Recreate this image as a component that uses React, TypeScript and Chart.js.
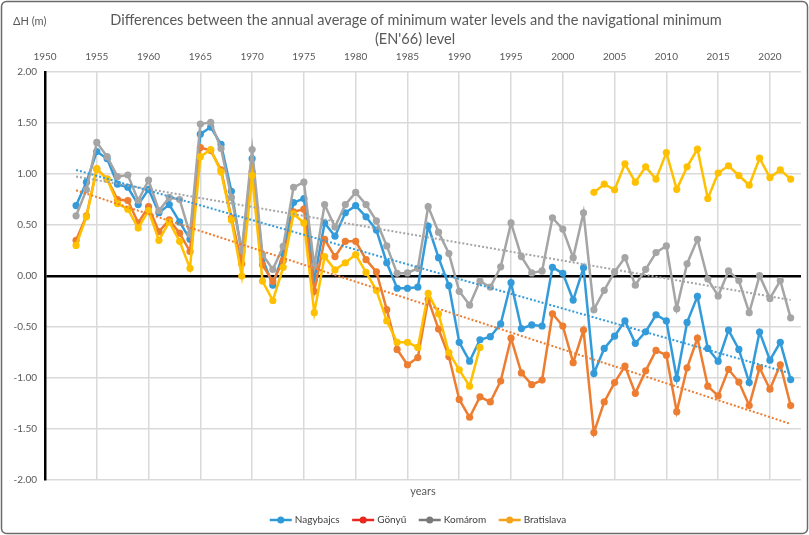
import React, { useEffect, useRef } from "react";
import { Chart, registerables } from "chart.js";

Chart.register(...registerables);

const years = [
  1953, 1954, 1955, 1956, 1957, 1958, 1959, 1960, 1961, 1962,
  1963, 1964, 1965, 1966, 1967, 1968, 1969, 1970, 1971, 1972,
  1973, 1974, 1975, 1976, 1977, 1978, 1979, 1980, 1981, 1982,
  1983, 1984, 1985, 1986, 1987, 1988, 1989, 1990, 1991, 1992,
  1993, 1994, 1995, 1996, 1997, 1998, 1999, 2000, 2001, 2002,
  2003, 2004, 2005, 2006, 2007, 2008, 2009, 2010, 2011, 2012,
  2013, 2014, 2015, 2016, 2017, 2018, 2019, 2020, 2021, 2022,
];

const nagybajcs = [
  0.69, 0.92, 1.22, 1.15, 0.9, 0.87, 0.7, 0.85, 0.62, 0.7,
  0.53, 0.36, 1.39, 1.46, 1.29, 0.83, 0.23, 1.15, 0.17, -0.09,
  0.22, 0.72, 0.76, -0.04, 0.52, 0.39, 0.62, 0.69, 0.58, 0.45,
  0.13, -0.12, -0.12, -0.11, 0.49, 0.18, -0.095, -0.65, -0.835, -0.625,
  -0.595, -0.47, -0.065, -0.515, -0.48, -0.49, 0.085, 0.026, -0.236, 0.08,
  -0.955, -0.71, -0.59, -0.44, -0.66, -0.547, -0.38, -0.44, -1.005, -0.455,
  -0.2, -0.71, -0.835, -0.53, -0.72, -1.045, -0.55, -0.825, -0.65, -1.015,
];

const gonyu = [
  0.35, 0.59, 1.05, 0.95, 0.75, 0.74, 0.52, 0.68, 0.435, 0.55,
  0.42, 0.24, 1.26, 1.23, 1.04, 0.57, 0.12, 1.02, 0.11, -0.055,
  0.15, 0.63, 0.655, -0.15, 0.36, 0.19, 0.34, 0.34, 0.16, 0.04,
  -0.33, -0.72, -0.87, -0.8, -0.23, -0.52, -0.79, -1.21, -1.385, -1.185,
  -1.235, -1.03, -0.61, -0.95, -1.065, -1.02, -0.37, -0.49, -0.85, -0.53,
  -1.535, -1.235, -1.045, -0.884, -1.15, -0.93, -0.73, -0.776, -1.33, -0.9,
  -0.61, -1.08, -1.175, -0.915, -1.04, -1.27, -0.9, -1.11, -0.87, -1.27,
];

const komarom = [
  0.59, 0.845, 1.31, 1.17, 0.975, 0.99, 0.74, 0.94, 0.64, 0.77,
  0.75, 0.41, 1.49, 1.506, 1.25, 0.77, 0.25, 1.24, 0.21, 0.065,
  0.29, 0.87, 0.92, 0.1, 0.7, 0.48, 0.7, 0.82, 0.7, 0.54,
  0.295, 0.026, 0.03, 0.075, 0.68, 0.43, 0.22, -0.15, -0.285, -0.05,
  -0.11, 0.09, 0.52, 0.19, 0.03, 0.05, 0.57, 0.46, 0.18, 0.62,
  -0.33, -0.14, 0.04, 0.18, -0.09, 0.065, 0.23, 0.295, -0.32, 0.12,
  0.36, -0.03, -0.196, 0.05, -0.045, -0.36, 0.003, -0.22, -0.045, -0.41,
];

const bratislava = [
  0.3, 0.58, 1.05, 0.95, 0.71, 0.655, 0.47, 0.64, 0.35, 0.53,
  0.34, 0.075, 1.17, 1.24, 1.02, 0.55, 0.0, 0.985, -0.05, -0.24,
  0.085, 0.61, 0.52, -0.36, 0.19, 0.06, 0.13, 0.21, 0.035, -0.14,
  -0.44, -0.65, -0.65, -0.7, -0.17, -0.37, -0.75, -0.92, -1.08, -0.7,
  null, null, null, null, null, null, null, null, null, null,
  0.82, 0.9, 0.845, 1.1, 0.92, 1.07, 0.95, 1.21, 0.85, 1.07,
  1.245, 0.76, 1.01, 1.08, 0.985, 0.89, 1.155, 0.965, 1.04, 0.95,
];

// trend lines (end points)
const trendYears = [1953, 2022];
const nagybajcsTrend = [1.04, -0.955];
const komaromTrend = [0.975, -0.235];
const gonyuTrend = [0.84, -1.45];

const seriesLabels = ["Nagybajcs", "Gönyű", "Komárom", "Bratislava"];
const lineColors = ["#339BDA", "#ED7D31", "#A5A5A5", "#FFC000"];
const legendColors = ["#2E9AD8", "#E8281F", "#7A7A7A", "#F7A21B"];

const titleLines = [
  "Differences between the annual average of minimum water levels and the navigational minimum",
  "(EN'66) level",
];
const yAxisTitle = "ΔH (m)";
const xAxisTitle = "years";

const FONT = "Lato";

function toPoints(xs: number[], ys: (number | null)[]) {
  return xs.map((x, i) => ({ x, y: ys[i] }));
}

const overlayPlugin = {
  id: "overlay",
  afterDraw(chart: any) {
    const ctx: CanvasRenderingContext2D = chart.ctx;
    ctx.save();
    // frame
    ctx.strokeStyle = "#6b6b6b";
    ctx.lineWidth = 1.5;
    ctx.beginPath();
    (ctx as any).roundRect(1.5, 1.5, 806, 532, 5);
    ctx.stroke();

    ctx.fillStyle = "#595959";
    ctx.textBaseline = "middle";
    // title
    ctx.font = `16px ${FONT}`;
    const w0 = ctx.measureText(titleLines[0]).width;
    const size = (16 * 612) / w0;
    ctx.font = `${size}px ${FONT}`;
    ctx.textAlign = "center";
    ctx.fillText(titleLines[0], 416, 20);
    ctx.fillText(titleLines[1], 415, 39);

    // y axis title
    ctx.font = `11px ${FONT}`;
    ctx.textAlign = "left";
    ctx.fillText(yAxisTitle, 13, 21);

    // x axis title
    ctx.textAlign = "center";
    ctx.fillText(xAxisTitle, 423, 491);

    // legend
    ctx.font = `10px ${FONT}`;
    const lineW = 22;
    const textGap = 3;
    const itemGap = 12.5;
    const widths = seriesLabels.map((l) => ctx.measureText(l).width);
    const total =
      widths.reduce((a, b) => a + b + lineW + textGap, 0) +
      itemGap * (seriesLabels.length - 1);
    let x = 418 - total / 2;
    const ly = 520;
    ctx.textAlign = "left";
    seriesLabels.forEach((label, i) => {
      ctx.strokeStyle = legendColors[i];
      ctx.fillStyle = legendColors[i];
      ctx.lineWidth = 2.5;
      ctx.beginPath();
      ctx.moveTo(x, ly);
      ctx.lineTo(x + lineW, ly);
      ctx.stroke();
      ctx.beginPath();
      ctx.arc(x + lineW / 2, ly, 3.5, 0, Math.PI * 2);
      ctx.fill();
      ctx.fillStyle = "#404040";
      ctx.fillText(label, x + lineW + textGap, ly);
      x += lineW + textGap + widths[i] + itemGap;
    });
    ctx.restore();
  },
};

export default function App() {
  const ref = useRef<HTMLCanvasElement | null>(null);

  useEffect(() => {
    if (!ref.current) return;
    const seriesValues = [nagybajcs, gonyu, komarom, bratislava];
    const orders = [3, 2, 1, 0];
    const datasets: any[] = seriesValues.map((vals, i) => ({
      label: seriesLabels[i],
      data: toPoints(years, vals),
      borderColor: lineColors[i],
      backgroundColor: lineColors[i],
      borderWidth: 2.5,
      pointRadius: 3.6,
      pointBorderWidth: 0,
      pointBackgroundColor: lineColors[i],
      tension: 0,
      spanGaps: false,
      order: orders[i],
    }));
    const trends = [
      { vals: nagybajcsTrend, color: lineColors[0] },
      { vals: komaromTrend, color: lineColors[2] },
      { vals: gonyuTrend, color: lineColors[1] },
    ];
    trends.forEach((t) => {
      datasets.push({
        label: "trend",
        data: toPoints(trendYears, t.vals),
        borderColor: t.color,
        borderWidth: 2,
        borderDash: [2, 2],
        pointRadius: 0,
        order: -1,
      });
    });

    const chart = new Chart(ref.current, {
      type: "line",
      data: { datasets },
      options: {
        responsive: false,
        animation: false,
        devicePixelRatio: 1,
        layout: { padding: { left: 0, right: 8, top: 52, bottom: 55 } },
        plugins: {
          legend: { display: false },
          title: { display: false },
          tooltip: { enabled: false },
        },
        scales: {
          x: {
            type: "linear",
            position: "top",
            min: 1950,
            max: 2023,
            ticks: {
              stepSize: 5,
              includeBounds: false,
              color: "#595959",
              font: { family: FONT, size: 10 },
              padding: 9,
              maxRotation: 0,
              callback: (v: any) => String(v),
            },
            grid: { color: "#d9d9d9", lineWidth: 1.5, drawTicks: false },
            border: { display: false },
            afterFit: (s: any) => {
              s.height = 20;
            },
          },
          y: {
            min: -2,
            max: 2,
            ticks: {
              stepSize: 0.5,
              color: "#595959",
              font: { family: FONT, size: 10 },
              padding: 8,
              callback: (v: any) => Number(v).toFixed(2),
            },
            grid: {
              drawTicks: false,
              color: (c: any) => (c.tick && c.tick.value === 0 ? "#000000" : "#d9d9d9"),
              lineWidth: (c: any) => (c.tick && c.tick.value === 0 ? 2.5 : 1.5),
            },
            border: { display: true, color: "#000000", width: 2.5 },
            afterFit: (s: any) => {
              s.width = 45;
            },
          },
        },
      },
      plugins: [overlayPlugin],
    });
    return () => chart.destroy();
  }, []);

  return (
    <div style={{ position: "fixed", left: 0, top: 0, width: 809, height: 535, background: "#fff" }}>
      <canvas ref={ref} width={809} height={535} />
    </div>
  );
}
